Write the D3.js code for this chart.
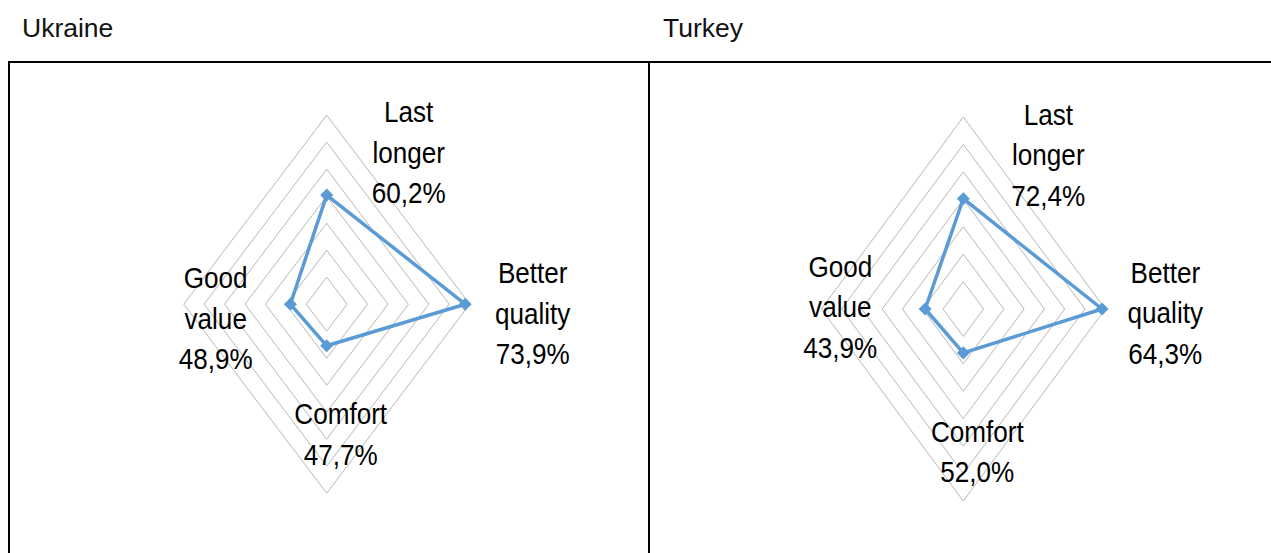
<!DOCTYPE html>
<html>
<head>
<meta charset="utf-8">
<script src="https://cdn.jsdelivr.net/npm/d3@7"></script>
<style>
  body { margin: 0; background: #fff; }
  svg { display: block; }
</style>
</head>
<body>
<div id="area"></div>
<script>
// radar axes, clockwise from the top
const axes = ['Last longer', 'Better quality', 'Comfort', 'Good value'];
const axisLines = [['Last', 'longer'], ['Better', 'quality'], ['Comfort'], ['Good', 'value']];

// printed percentages
const ukraineLabels = ['60,2%', '73,9%', '47,7%', '48,9%'];
const turkeyLabels = ['72,4%', '64,3%', '52,0%', '43,9%'];

// plotted values (axis 40% .. 75%)
const ukraineValues = [60.2, 73.9, 47.7, 48.9];
// the Turkey markers sit where the source drew them, not where the labels say
const turkeyValues = [60.1, 74.2, 48.0, 49.4];

const ringTicks = [45, 50, 55, 60, 65, 70, 75];
const axisMin = 40, axisMax = 75;

const width = 1271, height = 553;
const line_color = '#5B9BD5',
    grid_color = '#B8B8B8',
    text_color = '#000000';

const svg = d3.select('#area').append('svg')
    .attr('width', width)
    .attr('height', height);

// table frame
const frame = svg.append('g').attr('stroke', '#000');
frame.append('line').attr('x1', 8).attr('x2', width).attr('y1', 62).attr('y2', 62).attr('stroke-width', 2);
frame.append('line').attr('x1', 9).attr('x2', 9).attr('y1', 61).attr('y2', height).attr('stroke-width', 2);
frame.append('line').attr('x1', 649).attr('x2', 649).attr('y1', 61).attr('y2', height).attr('stroke-width', 2);

// titles above the table
svg.append('text').attr('x', 22).attr('y', 37).text('Ukraine')
    .attr('font-family', 'Liberation Sans, Arial, sans-serif').attr('font-size', 26.5).attr('fill', '#111');
svg.append('text').attr('x', 663).attr('y', 37).text('Turkey')
    .attr('font-family', 'Liberation Sans, Arial, sans-serif').attr('font-size', 26.5).attr('fill', '#111');

drawRadar({
    cx: 326.7, cy: 304.2, rx: 143, ry: 189,
    values: ukraineValues, labels: ukraineLabels,
    offsets: [[82, -182], [206, -21], [14, 120], [-111, -16]]
});

drawRadar({
    cx: 963.3, cy: 309, rx: 142, ry: 192,
    values: turkeyValues, labels: turkeyLabels,
    offsets: [[85, -184], [202, -26], [14, 133], [-123, -32]]
});

function drawRadar(opt) {
    const r = d3.scaleLinear().domain([axisMin, axisMax]).range([0, 1]);
    const angle = d3.scalePoint().domain(axes).range([0, 2 * Math.PI * 3 / 4]);

    const pos = (axis, v) => {
        const a = angle(axis);
        return [opt.cx + Math.sin(a) * r(v) * opt.rx, opt.cy - Math.cos(a) * r(v) * opt.ry];
    };

    const g = svg.append('g');

    // rings
    const ring = d3.line().curve(d3.curveLinearClosed);
    g.selectAll('path.ring')
        .data(ringTicks)
        .join('path')
        .attr('class', 'ring')
        .attr('d', t => ring(axes.map(a => pos(a, t))))
        .attr('fill', 'none')
        .attr('stroke', grid_color)
        .attr('stroke-width', 1);

    // series
    g.append('path')
        .attr('d', ring(axes.map((a, i) => pos(a, opt.values[i]))))
        .attr('fill', 'none')
        .attr('stroke', line_color)
        .attr('stroke-width', 3.5)
        .attr('stroke-linejoin', 'round');

    g.selectAll('path.marker')
        .data(axes)
        .join('path')
        .attr('class', 'marker')
        .attr('d', d3.symbol(d3.symbolSquare, 85))
        .attr('transform', (a, i) => {
            const p = pos(a, opt.values[i]);
            return `translate(${p[0]},${p[1]}) rotate(45)`;
        })
        .attr('fill', line_color);

    // category labels
    axes.forEach((a, i) => {
        const lab = g.append('g')
            .attr('transform', `translate(${opt.cx + opt.offsets[i][0]},${opt.cy + opt.offsets[i][1]}) scale(0.87,1)`);
        const lines = axisLines[i].concat([opt.labels[i]]);
        lab.selectAll('text')
            .data(lines)
            .join('text')
            .attr('y', (d, j) => j * 40.5)
            .attr('text-anchor', 'middle')
            .attr('font-family', 'Liberation Sans, Arial, sans-serif')
            .attr('font-size', 30)
            .attr('fill', text_color)
            .text(d => d);
    });
}
</script>
</body>
</html>
